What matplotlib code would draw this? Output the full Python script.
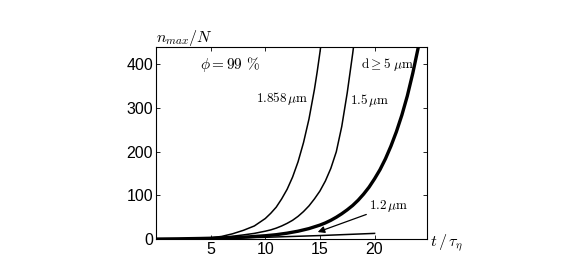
import matplotlib
matplotlib.use("Agg")
import matplotlib.pyplot as plt

plt.rcParams['mathtext.fontset'] = 'cm'
plt.rcParams['font.family'] = ['Liberation Sans', 'DejaVu Sans']

# data
t_1858 = [0, 2, 4, 5, 6, 7, 8, 9, 10, 10.5, 11, 11.5, 12, 12.5, 13, 13.5, 14, 14.5, 14.75, 15, 15.1]
n_1858 = [0, 0.3, 1.5, 3, 6, 12, 20, 30, 47, 59, 73, 92, 114, 142, 177, 221, 275, 343, 383, 427, 446]

t_15 = [0, 2, 4, 6, 7, 8, 9, 10, 10.5, 11, 11.5, 12, 12.5, 13, 13.5, 14, 14.5, 15, 15.5, 16,
        16.5, 17, 17.5, 18, 18.1]
n_15 = [0, 0.3, 1.5, 4, 6.5, 9.5, 13, 18, 21, 25, 30, 36, 43, 52, 63, 76, 92, 110, 133, 162,
        200, 258, 335, 425, 445]

t_5 = [0, 2, 4, 6, 8, 10, 11, 12, 13, 14, 14.5, 15, 15.5, 16, 16.5, 17, 17.5, 18, 18.5, 19,
       19.5, 20, 20.5, 21, 21.5, 22, 22.5, 23, 23.5, 24, 24.1]
n_5 = [0, 0.5, 1.3, 2.4, 4.2, 7.6, 10, 13.5, 18, 24, 28, 32, 37, 43, 50, 58, 67, 77, 89, 103,
       119, 138, 159, 184, 213, 246, 284, 328, 380, 439, 452]

t_12 = [0, 5, 10, 15, 20]
n_12 = [0, 1.5, 4, 8, 13]

x_ticks = [5, 10, 15, 20]
y_ticks = [0, 100, 200, 300, 400]

fig = plt.figure(figsize=(5.72, 2.68), dpi=100)
ax = fig.add_axes([0.2727, 0.108, 0.4738, 0.7166])

ax.plot(t_1858, n_1858, color='black', lw=1.1)
ax.plot(t_15, n_15, color='black', lw=1.1)
ax.plot(t_5, n_5, color='black', lw=2.4)
ax.plot(t_12, n_12, color='black', lw=1.1)

ax.set_xlim(0, 24.8)
ax.set_ylim(0, 440)
ax.set_xticks(x_ticks)
ax.set_yticks(y_ticks)
ax.tick_params(direction='in', length=3, width=0.6, labelsize=11.5,
               top=True, right=True, pad=2)
for s in ax.spines.values():
    s.set_linewidth(0.8)

ax.text(4.0, 400, r'$\phi = 99\ \%$', fontsize=11, va='center', ha='left')
ax.text(14.0, 322, r'$1.858\,\mu\mathrm{m}$', fontsize=9.5, va='center', ha='right')
ax.text(17.75, 318, r'$1.5\,\mu\mathrm{m}$', fontsize=9.5, va='center', ha='left')
ax.text(18.75, 400, r'$\mathrm{d} \geq 5\ \mu\mathrm{m}$', fontsize=9.5, va='center', ha='left')
ax.annotate(r'$1.2\,\mu\mathrm{m}$', xy=(14.8, 16), xytext=(19.5, 75),
            fontsize=9.5, va='center', ha='left',
            arrowprops=dict(arrowstyle='-|>', color='black', lw=0.9,
                            mutation_scale=10, shrinkA=0, shrinkB=0))

fig.text(0.272, 0.86, r'$n_{max}/N$', fontsize=11.5, ha='left', va='center')
fig.text(0.752, 0.093, r'$t\,/\,\tau_\eta$', fontsize=11.5, ha='left', va='center')

fig.savefig('out.png', dpi=100)
